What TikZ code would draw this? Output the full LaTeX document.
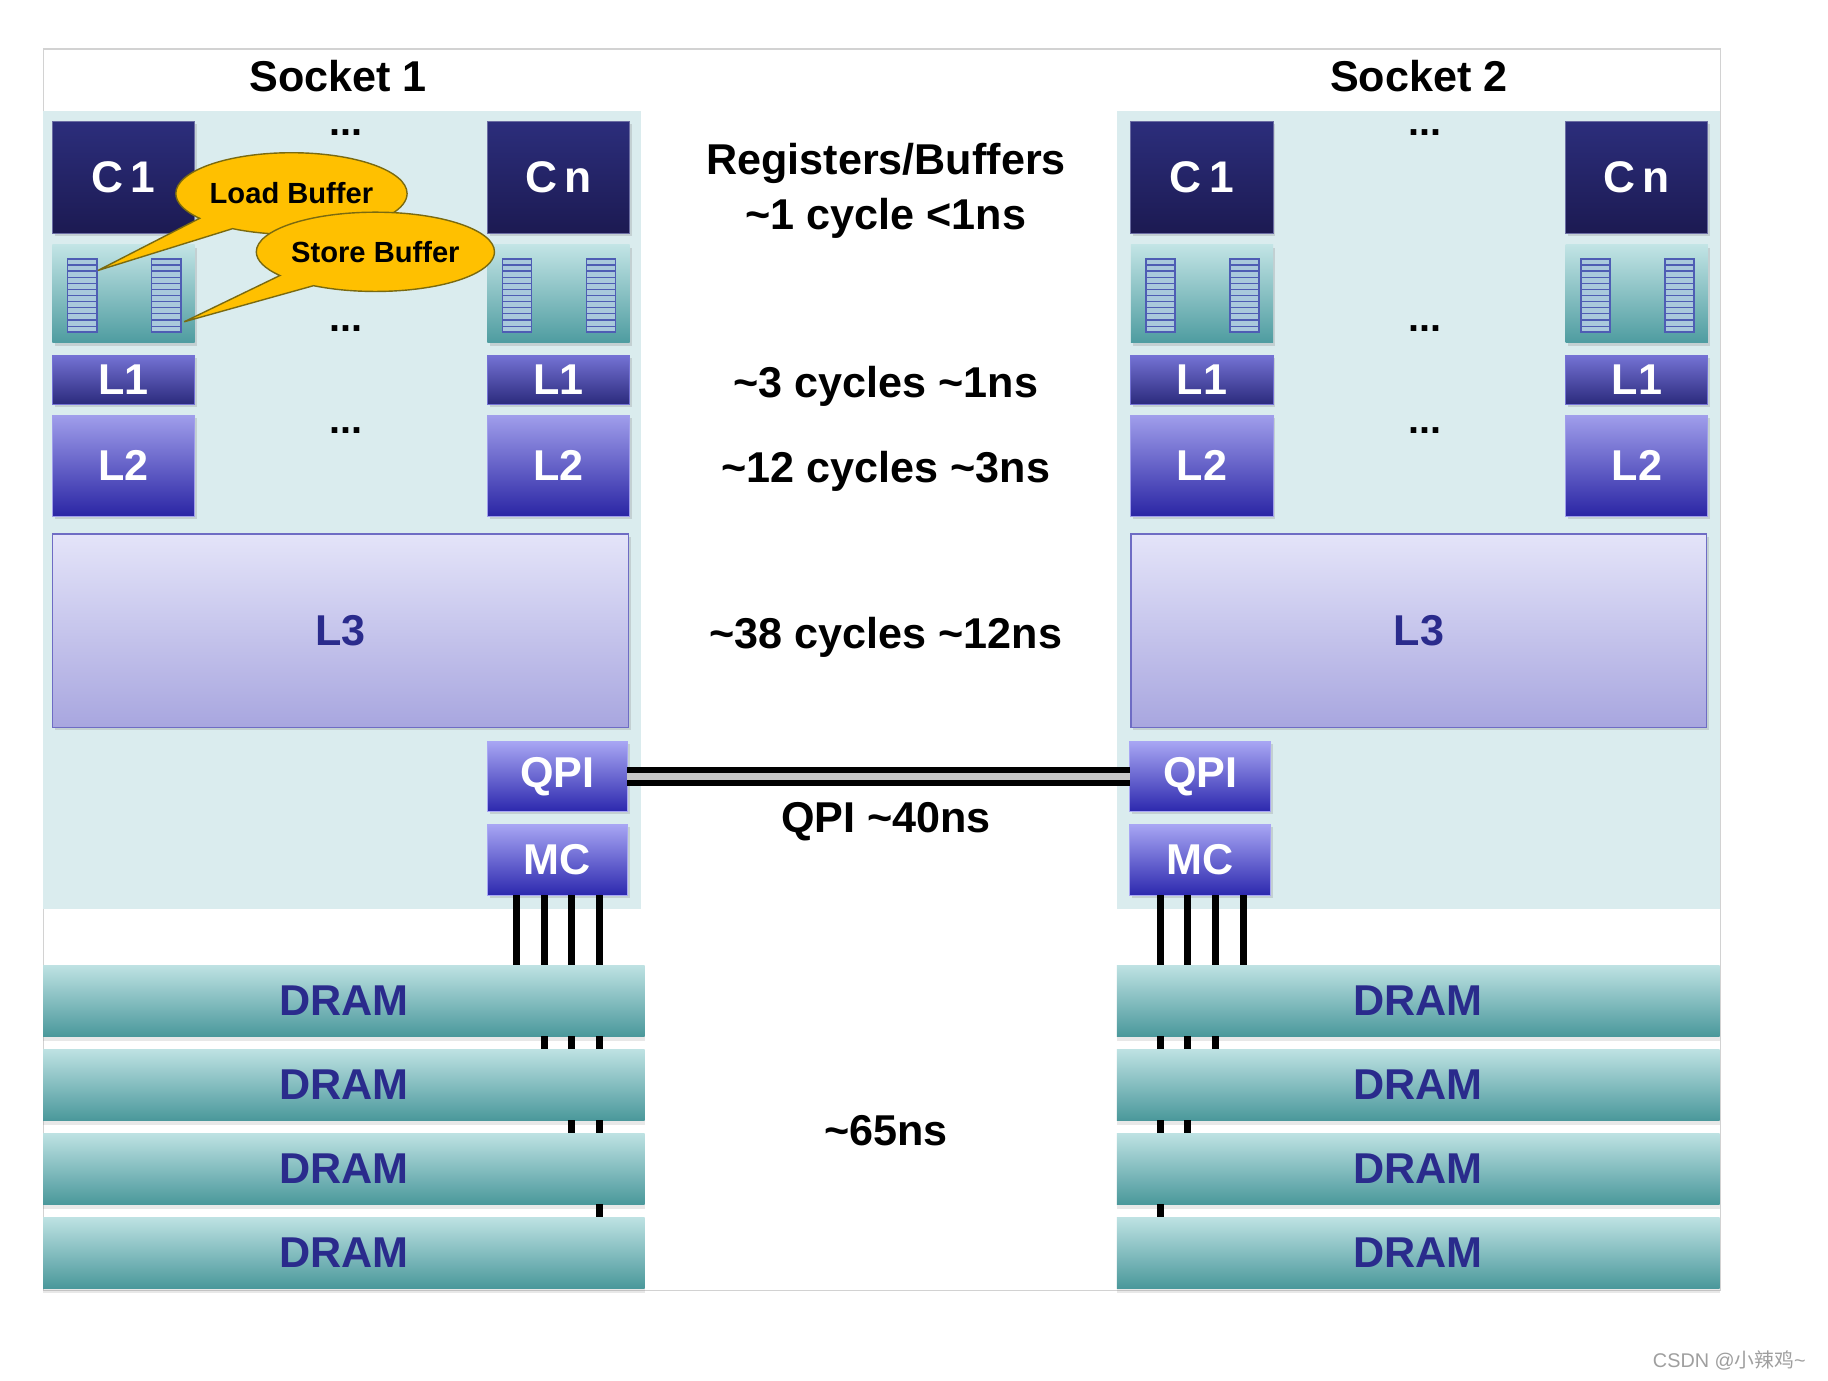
\documentclass[tikz,border=0pt]{standalone}
\usepackage{fontspec}
\setmainfont{Liberation Sans}
\newfontfamily\cjkfont{Noto Sans CJK SC}
\usetikzlibrary{shapes.callouts,shadows}
\definecolor{sockbg}{HTML}{DAECEE}
\definecolor{ctop}{HTML}{2C2E7C}
\definecolor{cbot}{HTML}{1C1A52}
\definecolor{buftop}{HTML}{C2E4E5}
\definecolor{bufmid}{HTML}{86C9CC}
\definecolor{bufbot}{HTML}{4E9CA0}
\definecolor{lonetop}{HTML}{7472D4}
\definecolor{lonebot}{HTML}{2B2A7C}
\definecolor{ltwotop}{HTML}{A09EEB}
\definecolor{ltwobot}{HTML}{2A25A4}
\definecolor{lthreetop}{HTML}{E4E4F9}
\definecolor{lthreebot}{HTML}{A8A6DF}
\definecolor{lthreeedge}{HTML}{6E6CC4}
\definecolor{qtop}{HTML}{A8A6F4}
\definecolor{qbot}{HTML}{2C28AE}
\definecolor{dtop}{HTML}{BEE2E3}
\definecolor{dmid}{HTML}{82C7CA}
\definecolor{dbot}{HTML}{4A989B}
\definecolor{txtblue}{HTML}{2A2B8C}
\definecolor{gold}{HTML}{FFC000}
\definecolor{goldedge}{HTML}{7A6A10}
\definecolor{barfill}{HTML}{A9C9DC}
\definecolor{barline}{HTML}{4E5DB4}
\begin{document}
\begin{tikzpicture}[x=0.5pt,y=-0.5pt,
  wh/.style 2 args={minimum width=#1*0.5pt, minimum height=#2*0.5pt, inner sep=0pt, outer sep=0pt, anchor=north west},
  lbl/.style={font=\fontsize{18.5}{22}\selectfont\bfseries},
  shad/.style={drop shadow={opacity=0.25, shadow xshift=1pt, shadow yshift=-1.2pt}},
  sockbox/.style={fill=sockbg},
  corebox/.style={shad, top color=ctop, bottom color=cbot, draw=ctop!70!white, line width=0.4pt, text=white, lbl, font=\fontsize{19}{22}\selectfont\bfseries},
  bufbox/.style={shad, top color=buftop, middle color=bufmid, bottom color=bufbot},
  lonebox/.style={shad, top color=lonetop, bottom color=lonebot, draw=lonetop, line width=0.4pt, text=white, lbl},
  ltwobox/.style={shad, top color=ltwotop, bottom color=ltwobot, draw=ltwotop, line width=0.4pt, text=white, lbl},
  lthreebox/.style={shad, top color=lthreetop, bottom color=lthreebot, draw=lthreeedge, line width=0.6pt, text=txtblue, lbl},
  qbox/.style={shad, top color=qtop, bottom color=qbot, draw=qtop, line width=0.4pt, text=white, lbl},
  drambox/.style={drop shadow={opacity=0.18, shadow xshift=0pt, shadow yshift=-2pt}, top color=dtop, middle color=dmid, bottom color=dbot, text=txtblue, lbl},
  bus/.style={line width=3pt, black},
  qpilink/.style={draw=black, line width=2.6pt, double=gray!45, double distance=2.8pt},
  callbox/.style={ellipse callout, fill=gold, draw=goldedge, line width=0.6pt, inner sep=0pt, callout pointer arc=22, font=\fontsize{12.5}{14}\selectfont\bfseries},
  title/.style={font=\fontsize{18.5}{22}\selectfont\bfseries},
  midtxt/.style={font=\fontsize{18.5}{22}\selectfont\bfseries, align=center},
  dots/.style={font=\fontsize{17}{20}\selectfont\bfseries}
]
\useasboundingbox (0,0) rectangle (1568,1184);
\fill[white] (0,0) rectangle (1568,1184);
% outer frame
\draw[gray!35, line width=0.5pt] (37,42) rectangle (1476,1107);
% socket backgrounds
\node[sockbox, wh={513}{685}] (sock1) at (37,95) {};
\node[sockbox, wh={517}{685}] (sock2) at (958,95) {};
\node[title] (t1) at (290,65) {Socket 1};
\node[title] (t2) at (1217,65) {Socket 2};
% cores, buffers, L1, L2, L3
\foreach \sk/\dx in {1/0,2/925}{
  \foreach \ck/\ox in {1/0,n/373}{
    \node[corebox, wh={122}{96}] (core\sk\ck) at (45+\dx+\ox,104) {C\,\ck};
    \node[bufbox, wh={122}{84}] (buf\sk\ck) at (45+\dx+\ox,210) {};
    \node[lonebox, wh={122}{42}] (lone\sk\ck) at (45+\dx+\ox,305) {L1};
    \node[ltwobox, wh={122}{87}] (ltwo\sk\ck) at (45+\dx+\ox,356) {L2};
    \foreach \bx in {13,85}{
      \fill[barfill] (45+\dx+\ox+\bx,222) rectangle ++(25,63);
      \foreach \k in {1,...,11}
        \draw[barline, line width=0.5pt] (45+\dx+\ox+\bx,222+\k*5.25) -- ++(25,0);
      \draw[barline, line width=0.7pt] (45+\dx+\ox+\bx,222) rectangle ++(25,63);
    }
  }
  \node[lthreebox, wh={494}{166}] (lthree\sk) at (45+\dx,458) {L3};
  \node[dots] (da\sk) at (297+\dx,114) {...};
  \node[dots] (db\sk) at (297+\dx,282) {...};
  \node[dots] (dc\sk) at (297+\dx,369) {...};
}
% QPI and MC
\node[qbox, wh={120}{60}] (qpi1) at (418,636) {QPI};
\node[qbox, wh={120}{61}] (mc1) at (418,707) {MC};
\node[qbox, wh={121}{60}] (qpi2) at (969,636) {QPI};
\node[qbox, wh={121}{61}] (mc2) at (969,707) {MC};
\draw[qpilink] (qpi1.east) -- (qpi2.west);
% DRAMs
\foreach \r/\yy in {1/828,2/900,3/972,4/1044}{
  \node[drambox, wh={516}{61}] (dram1\r) at (37,\yy) {DRAM};
  \node[drambox, wh={517}{61}] (dram2\r) at (958,\yy) {DRAM};
}
% memory buses socket 1
\foreach \x in {443,467,490,514}
  \draw[bus] (\x,0 |- mc1.south) -- (\x,0 |- dram11.north);
\foreach \x in {467,490,514}
  \draw[bus] (\x,0 |- dram11.south) -- (\x,0 |- dram12.north);
\foreach \x in {490,514}
  \draw[bus] (\x,0 |- dram12.south) -- (\x,0 |- dram13.north);
\foreach \x in {514}
  \draw[bus] (\x,0 |- dram13.south) -- (\x,0 |- dram14.north);
% memory buses socket 2
\foreach \x in {995,1019,1043,1067}
  \draw[bus] (\x,0 |- mc2.south) -- (\x,0 |- dram21.north);
\foreach \x in {995,1019,1043}
  \draw[bus] (\x,0 |- dram21.south) -- (\x,0 |- dram22.north);
\foreach \x in {995,1019}
  \draw[bus] (\x,0 |- dram22.south) -- (\x,0 |- dram23.north);
\foreach \x in {995}
  \draw[bus] (\x,0 |- dram23.south) -- (\x,0 |- dram24.north);
% callouts
\node[callbox, callout absolute pointer={(84,232)}, minimum width=96pt, minimum height=35pt] (lb) at (250,166) {Load Buffer};
\node[callbox, callout absolute pointer={(158,276)}, minimum width=96pt, minimum height=34pt] (sb) at (322,216) {Store Buffer};
% middle latency labels
\node[midtxt] (m1) at (760,140) {Registers/Buffers};
\node[midtxt] (m2) at (760,187) {\textasciitilde1 cycle <1ns};
\node[midtxt] (m3) at (760,331) {\textasciitilde3 cycles \textasciitilde1ns};
\node[midtxt] (m4) at (760,404) {\textasciitilde12 cycles \textasciitilde3ns};
\node[midtxt] (m5) at (760,547) {\textasciitilde38 cycles \textasciitilde12ns};
\node[midtxt] (m6) at (760,705) {QPI \textasciitilde40ns};
\node[midtxt] (m7) at (760,970) {\textasciitilde65ns};
% watermark
\node[font=\fontsize{8.5}{10}\selectfont, text=gray!75, anchor=east] (wm) at (1556,1167) {CSDN @{\cjkfont 小辣鸡}\textasciitilde};
\end{tikzpicture}
\end{document}
